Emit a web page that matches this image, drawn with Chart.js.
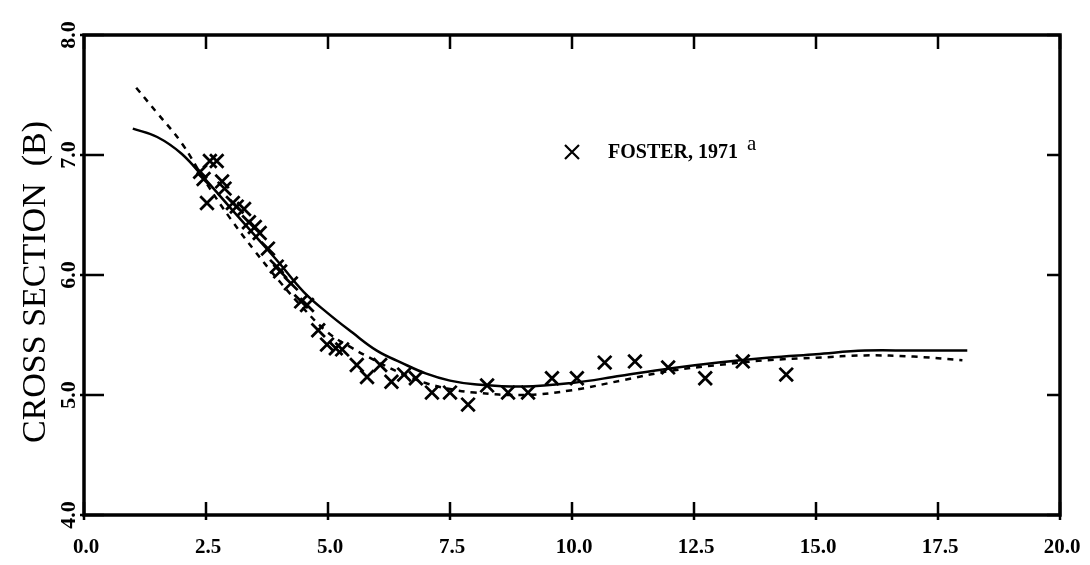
<!DOCTYPE html>
<html>
<head>
<meta charset="utf-8">
<script src="https://cdn.jsdelivr.net/npm/chart.js@4.4.1/dist/chart.umd.min.js"></script>
<style>
  html, body { margin: 0; padding: 0; background: #fff; }
  canvas { display: block; }
</style>
</head>
<body>
<canvas id="myChart" width="1090" height="565"></canvas>
<script>
// measured points (Foster, 1971)
const fosterX = [2.38, 2.45, 2.52, 2.58, 2.72, 2.83, 2.88, 3.05, 3.13, 3.28, 3.38, 3.5, 3.6, 3.77, 3.95, 4.02, 4.24, 4.45, 4.57, 4.8, 4.98, 5.16, 5.29, 5.59, 5.8, 6.07, 6.3, 6.56, 6.8, 7.13, 7.5, 7.87, 8.26, 8.69, 9.1, 9.59, 10.1, 10.67, 11.29, 11.97, 12.73, 13.5, 14.39]
const fosterY = [6.86, 6.80, 6.60, 6.95, 6.95, 6.78, 6.72, 6.60, 6.57, 6.55, 6.44, 6.40, 6.35, 6.22, 6.07, 6.03, 5.93, 5.78, 5.75, 5.54, 5.42, 5.39, 5.38, 5.25, 5.15, 5.25, 5.11, 5.17, 5.14, 5.02, 5.02, 4.92, 5.08, 5.02, 5.02, 5.14, 5.14, 5.27, 5.28, 5.23, 5.14, 5.28, 5.17]

// solid curve
const solidX = [1.0, 1.5, 2.0, 2.5, 3.0, 3.5, 4.0, 4.5, 5.0, 5.5, 6.0, 6.5, 7.0, 7.5, 8.0, 9.0, 10.0, 11.0, 12.0, 13.0, 14.0, 15.0, 16.0, 17.0, 18.1]
const solidY = [7.22, 7.15, 7.01, 6.79, 6.56, 6.33, 6.10, 5.86, 5.68, 5.52, 5.37, 5.27, 5.18, 5.12, 5.09, 5.07, 5.10, 5.16, 5.22, 5.27, 5.31, 5.34, 5.37, 5.37, 5.37]

// dashed curve
const dashX = [1.07, 1.5, 2.0, 2.5, 3.0, 3.5, 4.0, 4.5, 5.0, 5.5, 6.0, 6.5, 7.0, 7.5, 8.0, 9.0, 10.0, 11.0, 12.0, 13.0, 14.0, 15.0, 16.0, 17.0, 18.0]
const dashY = [7.56, 7.35, 7.10, 6.77, 6.47, 6.20, 5.95, 5.72, 5.52, 5.39, 5.28, 5.18, 5.10, 5.05, 5.02, 5.00, 5.04, 5.12, 5.20, 5.25, 5.29, 5.31, 5.33, 5.32, 5.29]

const xTicks = [0, 2.5, 5, 7.5, 10, 12.5, 15, 17.5, 20]
const yTicks = [4, 5, 6, 7, 8]

const yTitle = 'CROSS SECTION  (B)'
const legendLabel = 'FOSTER, 1971'

function toPoints(xs, ys) {
    return xs.map((x, i) => ({ x: x, y: ys[i] }))
}

const serif = '"Liberation Serif", "DejaVu Serif", serif'

const framePlugin = {
    id: 'frame',
    afterDraw(chart) {
        const ctx = chart.ctx
        const a = chart.chartArea
        const xs = chart.scales.x
        const ys = chart.scales.y
        ctx.save()
        ctx.strokeStyle = '#000'
        ctx.fillStyle = '#000'

        // box
        ctx.lineWidth = 3.5
        ctx.strokeRect(a.left, a.top, a.right - a.left, a.bottom - a.top)

        // inward ticks
        ctx.lineWidth = 2.5
        xTicks.forEach(v => {
            const px = xs.getPixelForValue(v)
            ctx.beginPath()
            ctx.moveTo(px, a.bottom + 5)
            ctx.lineTo(px, a.bottom - 13)
            ctx.moveTo(px, a.top)
            ctx.lineTo(px, a.top + 14)
            ctx.stroke()
        })
        yTicks.forEach(v => {
            const py = ys.getPixelForValue(v)
            ctx.beginPath()
            ctx.moveTo(a.left - 4, py)
            ctx.lineTo(a.left + 20, py)
            ctx.moveTo(a.right, py)
            ctx.lineTo(a.right - 13, py)
            ctx.stroke()
        })

        // x tick labels
        ctx.font = 'bold 21px ' + serif
        ctx.textAlign = 'center'
        ctx.textBaseline = 'middle'
        xTicks.forEach(v => {
            ctx.fillText(v.toFixed(1), xs.getPixelForValue(v) + 2, a.bottom + 33)
        })

        // rotated y tick labels
        ctx.font = 'bold 22px ' + serif
        yTicks.forEach(v => {
            const py = ys.getPixelForValue(v)
            ctx.save()
            ctx.translate(a.left - 15, py)
            ctx.rotate(-Math.PI / 2)
            ctx.fillText(v.toFixed(1), 0, 0)
            ctx.restore()
        })

        // y title
        ctx.save()
        ctx.font = '34px ' + serif
        ctx.translate(36, (a.top + a.bottom) / 2 + 7)
        ctx.rotate(-Math.PI / 2)
        ctx.fillText(yTitle, 0, 0)
        ctx.restore()

        // legend
        const lx = 572, ly = 152
        ctx.lineWidth = 2.2
        ctx.beginPath()
        ctx.moveTo(lx - 7, ly - 7)
        ctx.lineTo(lx + 7, ly + 7)
        ctx.moveTo(lx + 7, ly - 7)
        ctx.lineTo(lx - 7, ly + 7)
        ctx.stroke()
        ctx.textAlign = 'left'
        ctx.font = 'bold 20px ' + serif
        ctx.fillText(legendLabel, 608, ly + 1)
        const w = ctx.measureText(legendLabel).width
        ctx.font = '21px ' + serif
        ctx.fillText('a', 608 + w + 9, ly - 8)

        ctx.restore()
    }
}

const ctx = document.getElementById('myChart')
const chart = new Chart(ctx, {
    type: 'scatter',
    data: {
        datasets: [
            {
                label: 'FOSTER, 1971',
                data: toPoints(fosterX, fosterY),
                pointStyle: 'crossRot',
                pointRadius: 9.5,
                pointBorderWidth: 2.8,
                borderColor: '#000',
                backgroundColor: '#000',
                showLine: false
            },
            {
                label: 'solid',
                data: toPoints(solidX, solidY),
                showLine: true,
                borderColor: '#000',
                borderWidth: 2.5,
                pointRadius: 0,
                tension: 0.4
            },
            {
                label: 'dashed',
                data: toPoints(dashX, dashY),
                showLine: true,
                borderColor: '#000',
                borderWidth: 2.5,
                borderDash: [6, 6],
                pointRadius: 0,
                tension: 0.4
            }
        ]
    },
    options: {
        responsive: false,
        animation: false,
        devicePixelRatio: 1,
        layout: {
            padding: { left: 84, top: 35, right: 30, bottom: 50 }
        },
        plugins: {
            legend: { display: false },
            tooltip: { enabled: false }
        },
        scales: {
            x: {
                type: 'linear',
                min: 0,
                max: 20,
                display: false
            },
            y: {
                type: 'linear',
                min: 4,
                max: 8,
                display: false
            }
        }
    },
    plugins: [framePlugin]
})
</script>
</body>
</html>
